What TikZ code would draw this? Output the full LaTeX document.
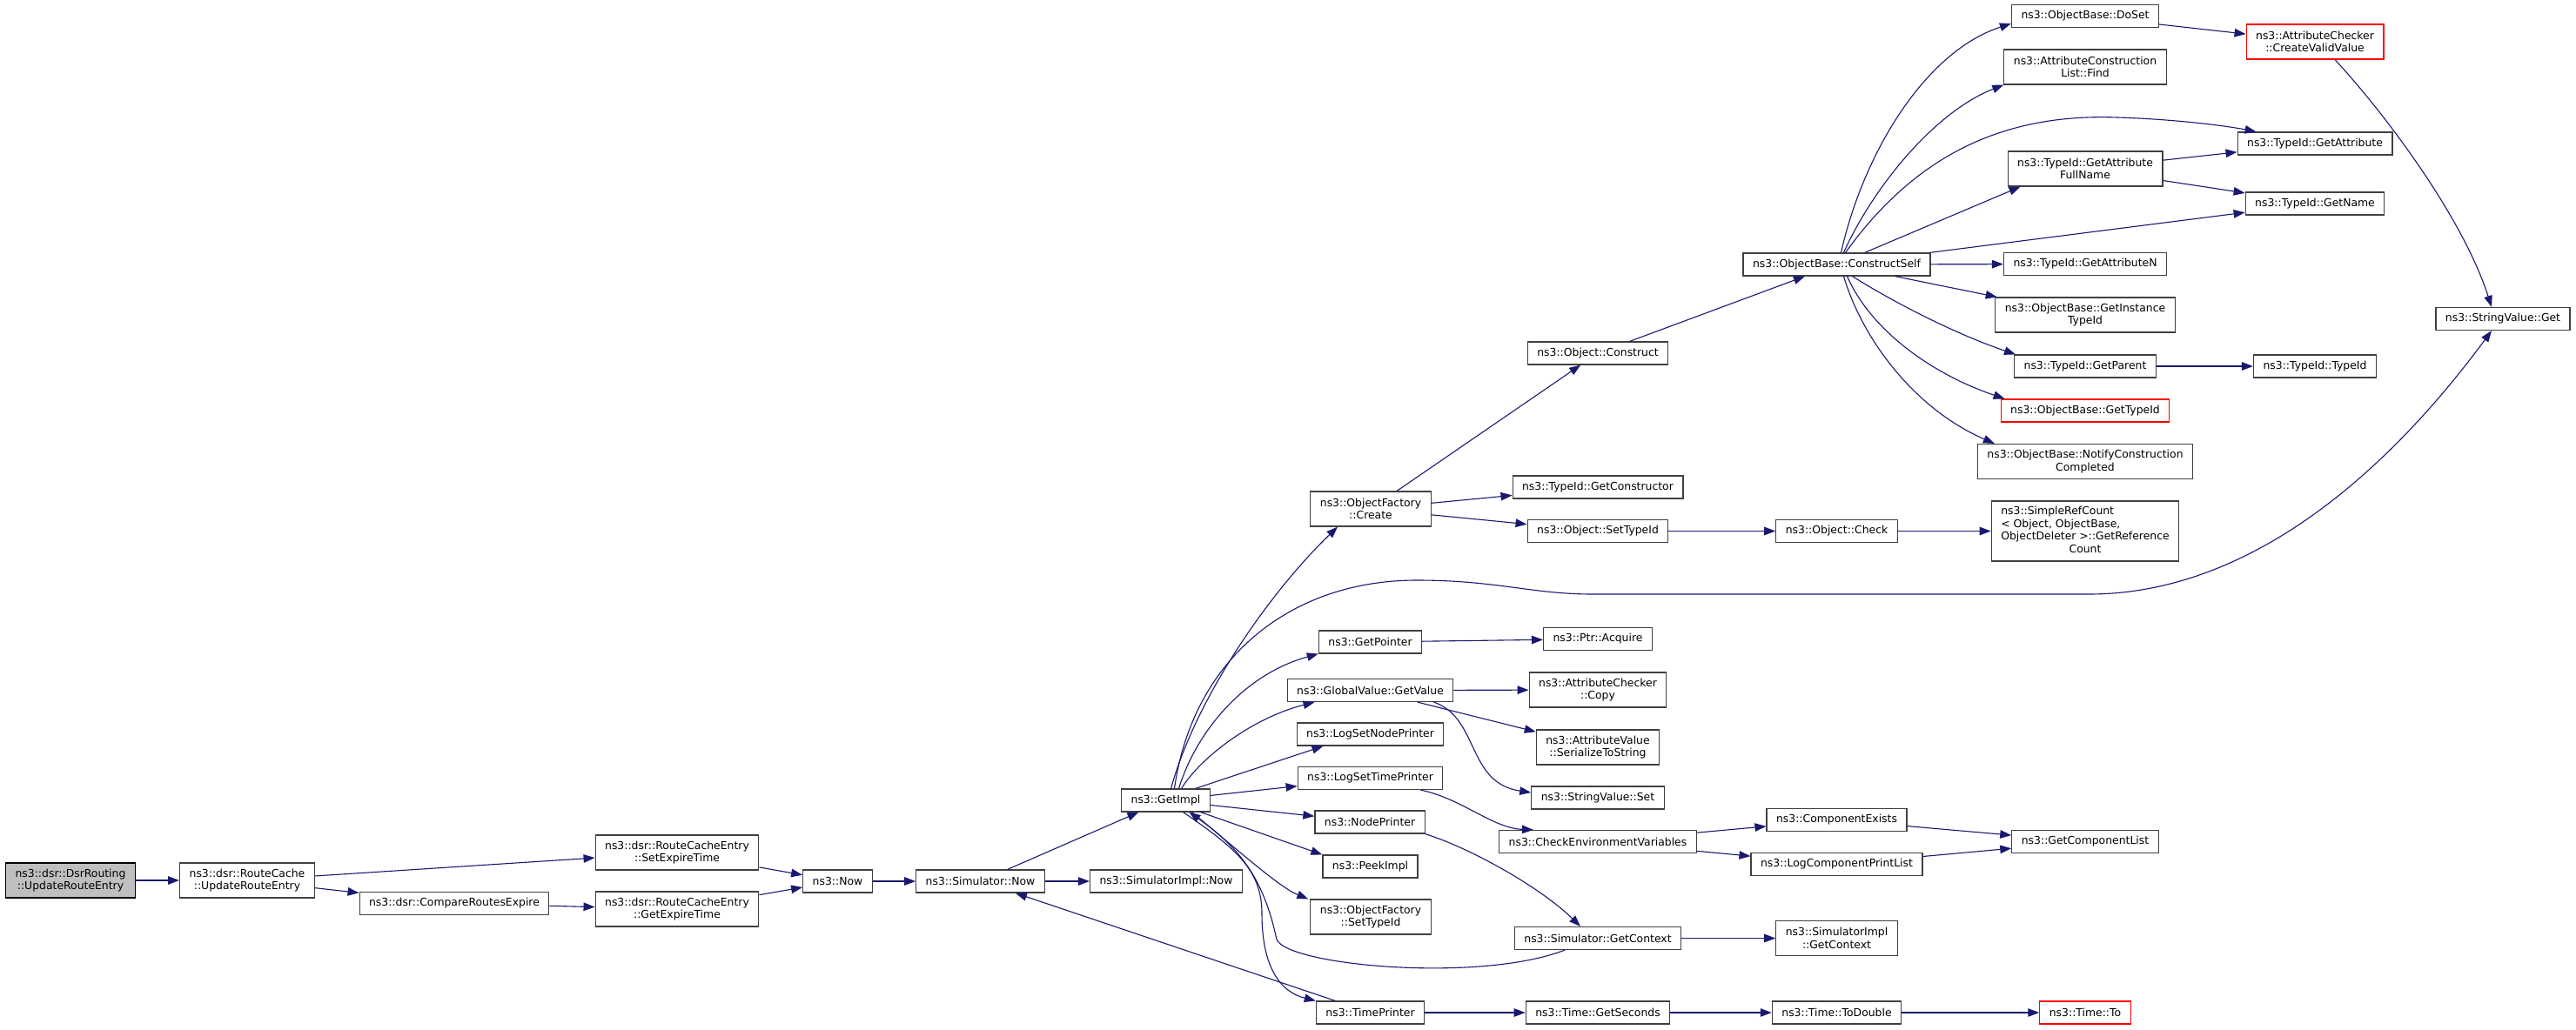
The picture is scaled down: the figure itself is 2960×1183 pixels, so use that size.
\documentclass[tikz,border=0pt]{standalone}
\usepackage{fontspec}
\setmainfont{DejaVu Sans}
\usetikzlibrary{arrows.meta}
\definecolor{callblue}{HTML}{191970}
\definecolor{boxgrey}{HTML}{404040}
\begin{document}
\begin{tikzpicture}[x=1pt,y=-1pt,
  >={Triangle[length=13pt,width=9.5pt]},
  fn/.style={draw=boxgrey,fill=white,line width=1.2pt,align=center,inner xsep=11pt,inner ysep=4pt,minimum height=26pt,font=\fontsize{12.4}{14.6}\selectfont},
  fn2/.style={fn,minimum height=40pt},
  rootfn/.style={fn2,draw=black,fill=black!25},
  redfn/.style={draw=red},
  call/.style={->,draw=callblue,line width=1.1pt}]
\useasboundingbox (0,0) rectangle (2960,1183);
\node[rootfn] (dsr) at (81,1012) {ns3::dsr::DsrRouting\\::UpdateRouteEntry};
\node[fn2] (rc) at (284,1012) {ns3::dsr::RouteCache\\::UpdateRouteEntry};
\node[fn] (cmp) at (522,1038.5) {ns3::dsr::CompareRoutesExpire};
\node[fn2] (setexp) at (778,980) {ns3::dsr::RouteCacheEntry\\::SetExpireTime};
\node[fn2] (getexp) at (778,1045) {ns3::dsr::RouteCacheEntry\\::GetExpireTime};
\node[fn] (now) at (962.5,1013) {ns3::Now};
\node[fn] (simnow) at (1126.5,1013) {ns3::Simulator::Now};
\node[fn] (getimpl) at (1339.5,920) {ns3::GetImpl};
\node[fn] (implnow) at (1340,1013) {ns3::SimulatorImpl::Now};
\node[fn2] (ofc) at (1575,585) {ns3::ObjectFactory\\::Create};
\node[fn] (getptr) at (1574.5,738) {ns3::GetPointer};
\node[fn] (getval) at (1574.5,793.5) {ns3::GlobalValue::GetValue};
\node[fn] (lognode) at (1574.5,844) {ns3::LogSetNodePrinter};
\node[fn] (logtime) at (1574.5,894.5) {ns3::LogSetTimePrinter};
\node[fn] (nodeprn) at (1574,945) {ns3::NodePrinter};
\node[fn] (peek) at (1574.5,996) {ns3::PeekImpl};
\node[fn2] (ofsettid) at (1575,1054) {ns3::ObjectFactory\\::SetTypeId};
\node[fn] (tp) at (1574.5,1164) {ns3::TimePrinter};
\node[fn] (construct) at (1836,406) {ns3::Object::Construct};
\node[fn] (getctor) at (1836,560) {ns3::TypeId::GetConstructor};
\node[fn] (settid) at (1836,610.5) {ns3::Object::SetTypeId};
\node[fn] (acquire) at (1836,734.5) {ns3::Ptr::Acquire};
\node[fn2] (chkcopy) at (1836,793) {ns3::AttributeChecker\\::Copy};
\node[fn2] (serial) at (1836,859) {ns3::AttributeValue\\::SerializeToString};
\node[fn] (strset) at (1836,917) {ns3::StringValue::Set};
\node[fn] (checkenv) at (1836,967.5) {ns3::CheckEnvironmentVariables};
\node[fn] (simctx) at (1836,1078.5) {ns3::Simulator::GetContext};
\node[fn] (getsec) at (1836,1164) {ns3::Time::GetSeconds};
\node[fn] (cself) at (2110.5,304) {ns3::ObjectBase::ConstructSelf};
\node[fn] (check) at (2110.5,610.5) {ns3::Object::Check};
\node[fn] (compexists) at (2110.5,942.5) {ns3::ComponentExists};
\node[fn] (printlist) at (2110.5,993.5) {ns3::LogComponentPrintList};
\node[fn2] (implctx) at (2110.5,1078.5) {ns3::SimulatorImpl\\::GetContext};
\node[fn] (todouble) at (2110.5,1164) {ns3::Time::ToDouble};
\node[fn] (doset) at (2396,18.5) {ns3::ObjectBase::DoSet};
\node[fn2] (findlist) at (2396,77) {ns3::AttributeConstruction\\List::Find};
\node[fn2] (fullname) at (2396,194) {ns3::TypeId::GetAttribute\\FullName};
\node[fn] (attrn) at (2396,303.5) {ns3::TypeId::GetAttributeN};
\node[fn2] (insttid) at (2396,362) {ns3::ObjectBase::GetInstance\\TypeId};
\node[fn] (getparent) at (2396,421) {ns3::TypeId::GetParent};
\node[fn,redfn] (gettid) at (2396,472) {ns3::ObjectBase::GetTypeId};
\node[fn2] (notify) at (2396,530.5) {ns3::ObjectBase::NotifyConstruction\\Completed};
\node[fn,minimum height=69pt] (refcnt) at (2396,610.5) {\begin{tabular}{@{}l@{}}ns3::SimpleRefCount\\< Object, ObjectBase,\\\multicolumn{1}{@{}c@{}}{ObjectDeleter >::GetReference}\\\multicolumn{1}{@{}c@{}}{Count}\end{tabular}};
\node[fn] (complist) at (2396,967.5) {ns3::GetComponentList};
\node[fn,redfn] (timeto) at (2396,1164) {ns3::Time::To};
\node[fn2,redfn] (validval) at (2660,48) {ns3::AttributeChecker\\::CreateValidValue};
\node[fn] (getattr) at (2660,165) {ns3::TypeId::GetAttribute};
\node[fn] (getname) at (2660,234) {ns3::TypeId::GetName};
\node[fn] (typeid) at (2660,421) {ns3::TypeId::TypeId};
\node[fn] (strget) at (2876,366.5) {ns3::StringValue::Get};
\draw [call] (dsr) -- (rc);
\draw [call] (rc) -- (setexp);
\draw [call] (rc) -- (cmp);
\draw [call] (cmp) -- (getexp);
\draw [call] (setexp) -- (now);
\draw [call] (getexp) -- (now);
\draw [call] (now) -- (simnow);
\draw [call] (simnow) -- (getimpl);
\draw [call] (simnow) -- (implnow);
\draw [call] (tp) -- (simnow);
\draw [call] ([xshift=6pt]getimpl.north) .. controls (1375,800) and (1460,680) .. ([xshift=-38pt]ofc.south);
\draw [call] ([xshift=10pt]getimpl.north) .. controls (1370,760) and (1480,667) .. (1628,667) .. controls (1720,667) and (1760,683) .. (1830,683) -- (2400,683) .. controls (2600,683) and (2760,520) .. ([xshift=-13pt]strget.south);
\draw [call] ([xshift=15pt]getimpl.north) .. controls (1375,840) and (1430,775) .. (getptr.south west);
\draw [call] ([xshift=18pt]getimpl.north) .. controls (1380,870) and (1440,825) .. ([xshift=-64pt]getval.south);
\draw [call] ([xshift=34pt]getimpl.north) -- ([xshift=-54pt]lognode.south);
\draw [call] (getimpl) -- (logtime);
\draw [call] (getimpl) -- (nodeprn);
\draw [call] ([xshift=40pt]getimpl.south) -- (peek.north west);
\draw [call] ([xshift=30pt]getimpl.south) .. controls (1420,975) and (1470,1020) .. ([xshift=-2pt]ofsettid.north west);
\draw [call] ([xshift=20pt]getimpl.south) .. controls (1420,975) and (1450,1000) .. (1450,1050) .. controls (1450,1110) and (1470,1140) .. (tp.north west);
\draw [call] ([xshift=-38pt]simctx.south) .. controls (1700,1130) and (1480,1110) .. (1467,1080) .. controls (1452,1010) and (1425,975) .. ([xshift=27pt]getimpl.south);
\draw [call] (getval) -- (chkcopy);
\draw [call] (getval) -- (serial);
\draw [call] ([xshift=73pt]getval.south) .. controls (1700,825) and (1685,900) .. ([yshift=6pt]strset.west);
\draw [call] ([xshift=58pt]logtime.south) .. controls (1680,918) and (1715,952) .. ([xshift=-74pt]checkenv.north);
\draw [call] (nodeprn.south east) .. controls (1690,975) and (1770,1020) .. ([xshift=-20pt]simctx.north);
\draw [call] (tp) -- (getsec);
\draw [call] (ofc) -- (construct);
\draw [call] (ofc) -- (getctor);
\draw [call] (ofc) -- (settid);
\draw [call] (getptr) -- (acquire);
\draw [call] (construct) -- (cself);
\draw [call] (settid) -- (check);
\draw [call] (checkenv) -- (compexists);
\draw [call] (checkenv) -- (printlist);
\draw [call] (simctx) -- (implctx);
\draw [call] (getsec) -- (todouble);
\draw [call] ([xshift=5pt]cself.north) .. controls (2140,180) and (2210,60) .. ([yshift=5pt]doset.south west);
\draw [call] ([xshift=8pt]cself.north) .. controls (2150,220) and (2220,130) .. (findlist.south west);
\draw [call] ([xshift=10pt]cself.north) .. controls (2200,180) and (2300,130) .. (2433,135) .. controls (2500,137) and (2560,145) .. ([xshift=22pt]getattr.north west);
\draw [call] (cself) -- ([xshift=15pt]fullname.south west);
\draw [call] (cself) -- (getname);
\draw [call] (cself) -- (attrn);
\draw [call] (cself) -- (insttid);
\draw [call] ([xshift=18pt]cself.south) .. controls (2180,350) and (2250,385) .. ([xshift=2pt]getparent.north west);
\draw [call] ([xshift=12pt]cself.south) .. controls (2150,380) and (2220,430) .. ([xshift=5pt]gettid.north west);
\draw [call] ([xshift=8pt]cself.south) .. controls (2140,390) and (2200,470) .. ([xshift=20pt]notify.north west);
\draw [call] (check) -- (refcnt);
\draw [call] (compexists) -- (complist);
\draw [call] (printlist) -- (complist);
\draw [call] (todouble) -- (timeto);
\draw [call] (doset) -- (validval);
\draw [call] (fullname) -- (getattr);
\draw [call] (fullname) -- (getname);
\draw [call] (getparent) -- (typeid);
\draw [call] ([xshift=23pt]validval.south) .. controls (2740,130) and (2830,250) .. ([xshift=-13pt]strget.north);
\end{tikzpicture}
\end{document}
